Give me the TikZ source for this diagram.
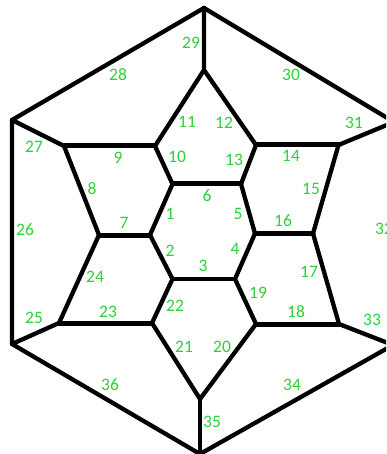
\documentclass[tikz,border=0pt]{standalone}
\usepackage{fontspec}
\setmainfont{Carlito}
\definecolor{lab}{RGB}{46,208,60}
\tikzset{
  edge/.style={draw=black,line width=4.3pt,line cap=round,line join=round},
  hedge/.style={draw=black,line width=5pt,line cap=round},
  lbl/.style={text=lab,font=\fontsize{17.5}{17.5}\selectfont,inner sep=0pt}
}
\begin{document}
\begin{tikzpicture}[x=1pt,y=-1pt]
\useasboundingbox (0,0) rectangle (386,454);
\clip (0,0) rectangle (386,454);
\fill[white] (0,0) rectangle (386,454);
% outer
\coordinate (T) at (204,8);
\coordinate (TL) at (12,120);
\coordinate (BL) at (12,344);
\coordinate (B) at (200,454);
\coordinate (BR) at (393,345);
\coordinate (TR) at (394,122);
\coordinate (IT) at (204,70);
\coordinate (IB) at (200,399);
% inner
\coordinate (a) at (64,146);
\coordinate (b) at (155,146);
\coordinate (c) at (172.5,184);
\coordinate (d) at (241,184);
\coordinate (e) at (256,145);
\coordinate (f) at (338.5,145);
\coordinate (g) at (313,233.5);
\coordinate (h) at (255,233.5);
\coordinate (i) at (235,279);
\coordinate (j) at (172.5,279);
\coordinate (k) at (152,323);
\coordinate (l) at (59,323);
\coordinate (m) at (99,235);
\coordinate (n) at (150,235);
\coordinate (o) at (256,324);
\coordinate (p) at (339,324);
\draw[edge] (T) -- (TL) -- (BL) -- (B) -- (BR);
\draw[edge] (T) -- (TR);
\draw[edge] (T) -- (IT) -- (b) -- (c) -- (n) -- (j) -- (k) -- (IB) -- (o) -- (i) -- (h) -- (d) -- (e) -- (IT);
\draw[edge] (TL) -- (a) -- (m) -- (l) -- (BL);
\draw[edge] (TR) -- (f) -- (g);
\draw[edge] (g) -- (p) -- (BR);
\draw[edge] (IB) -- (B);
\draw[hedge] (a) -- (b);
\draw[hedge] (e) -- (f);
\draw[hedge] (c) -- (d);
\draw[hedge] (m) -- (n);
\draw[hedge] (h) -- (g);
\draw[edge] (j) -- (i);
\draw[hedge] (l) -- (k);
\draw[hedge] (o) -- (p);
% labels
\node[lbl] (n1) at (170,214) {1};
\node[lbl] (n2) at (170,251) {2};
\node[lbl] (n3) at (203,266) {3};
\node[lbl] (n4) at (235,249) {4};
\node[lbl] (n5) at (238,214) {5};
\node[lbl] (n6) at (207,196) {6};
\node[lbl] (n7) at (124,223) {7};
\node[lbl] (n8) at (92,189) {8};
\node[lbl] (n9) at (118,158) {9};
\node[lbl] (n10) at (177,157) {10};
\node[lbl] (n11) at (187,122) {11};
\node[lbl] (n12) at (224,123) {12};
\node[lbl] (n13) at (234,160) {13};
\node[lbl] (n14) at (291,156) {14};
\node[lbl] (n15) at (311,189) {15};
\node[lbl] (n16) at (283,221) {16};
\node[lbl] (n17) at (309,272) {17};
\node[lbl] (n18) at (296,312) {18};
\node[lbl] (n19) at (258,293) {19};
\node[lbl] (n20) at (222,347) {20};
\node[lbl] (n21) at (184,347) {21};
\node[lbl] (n22) at (175,306) {22};
\node[lbl] (n23) at (108,312) {23};
\node[lbl] (n24) at (95,277) {24};
\node[lbl] (n25) at (34,318) {25};
\node[lbl] (n26) at (25,230) {26};
\node[lbl] (n27) at (34,147) {27};
\node[lbl] (n28) at (118,75) {28};
\node[lbl] (n29) at (191,43) {29};
\node[lbl] (n30) at (291,75) {30};
\node[lbl] (n31) at (354,123) {31};
\node[lbl] (n32) at (384,229) {32};
\node[lbl] (n33) at (372,320) {33};
\node[lbl] (n34) at (292,385) {34};
\node[lbl] (n35) at (212,422) {35};
\node[lbl] (n36) at (110,385) {36};
\end{tikzpicture}
\end{document}
